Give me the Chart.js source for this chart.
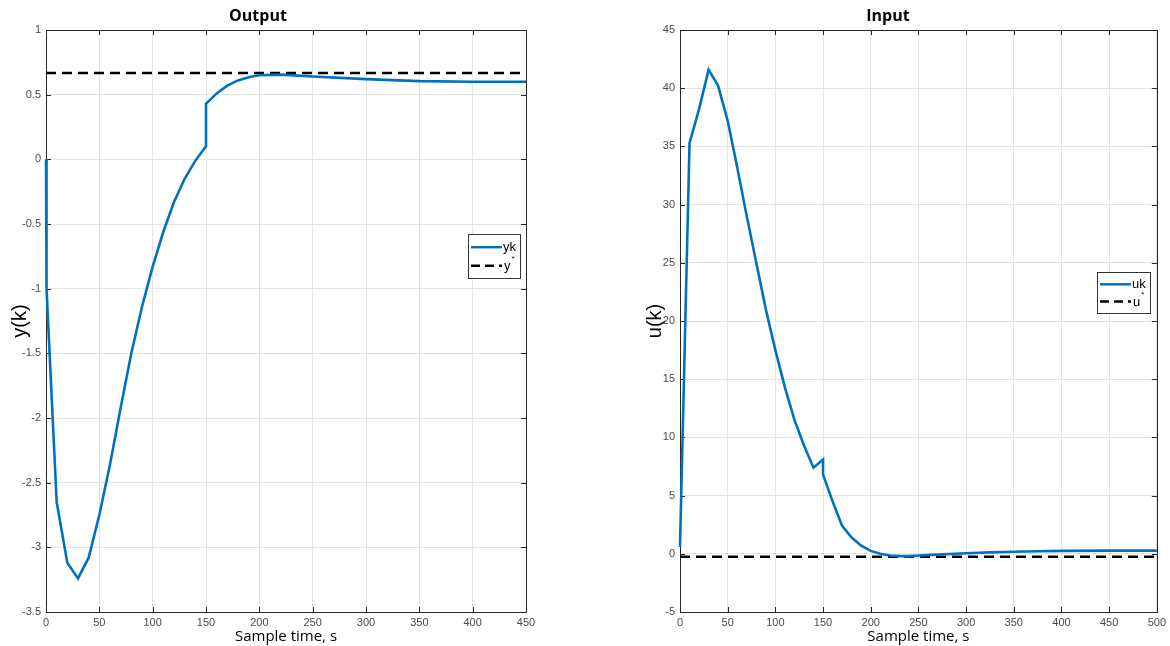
<!DOCTYPE html>
<html>
<head>
<meta charset="utf-8">
<script src="https://cdn.jsdelivr.net/npm/chart.js@4/dist/chart.umd.min.js"></script>
<style>
  html, body { margin: 0; padding: 0; background: #fff; }
  #wrap { position: relative; width: 1170px; height: 646px; }
  canvas { position: absolute; top: 0; }
</style>
</head>
<body>
<div id="wrap">
  <canvas id="outChart" width="560" height="646" style="left:0"></canvas>
  <canvas id="inChart" width="585" height="646" style="left:585px"></canvas>
</div>
<script>
// Output y(k)
const outTime = [0, 0.5, 10, 20, 30, 40, 50, 60, 70, 80, 90, 100, 110, 120, 130, 140, 150, 150, 160, 170, 180, 190, 200, 220, 250, 300, 350, 400, 450];
const outY = [0, -1.0, -2.65, -3.12, -3.24, -3.08, -2.75, -2.36, -1.92, -1.5, -1.14, -0.83, -0.56, -0.33, -0.15, -0.01, 0.1, 0.43, 0.51, 0.57, 0.61, 0.635, 0.65, 0.655, 0.64, 0.62, 0.605, 0.6, 0.6];
const yStar = 0.667;
const outXTicks = [0, 50, 100, 150, 200, 250, 300, 350, 400, 450];
const outYTicks = [-3.5, -3, -2.5, -2, -1.5, -1, -0.5, 0, 0.5, 1];

// Input u(k)
const inTime = [0, 10, 20, 30, 40, 50, 60, 70, 80, 90, 100, 110, 120, 130, 140, 150, 150, 160, 170, 180, 190, 200, 210, 220, 230, 240, 250, 275, 300, 325, 350, 375, 400, 450, 500];
const inU = [0.6, 35.3, 38.2, 41.6, 40.2, 37.2, 33.2, 29.0, 25.0, 21.0, 17.5, 14.3, 11.5, 9.3, 7.4, 8.1, 6.8, 4.5, 2.4, 1.4, 0.7, 0.25, 0.0, -0.15, -0.2, -0.2, -0.15, -0.05, 0.05, 0.12, 0.18, 0.22, 0.25, 0.27, 0.27];
const uStar = -0.25;
const inXTicks = [0, 50, 100, 150, 200, 250, 300, 350, 400, 450, 500];
const inYTicks = [-5, 0, 5, 10, 15, 20, 25, 30, 35, 40, 45];

const BLUE = "#0072BD";
const AXIS = "#262626";

// MATLAB style box: frame + inward ticks, title and legend
const matlabBox = {
  id: "matlabBox",
  beforeDatasetsDraw(chart, args, o) {
    const { ctx, chartArea: a, scales: { x, y } } = chart;
    ctx.save();
    ctx.strokeStyle = AXIS;
    ctx.lineWidth = 1;
    ctx.beginPath();
    x.ticks.forEach(t => {
      const px = Math.round(x.getPixelForValue(t.value)) + 0.5;
      ctx.moveTo(px, a.bottom); ctx.lineTo(px, a.bottom - 5);
      ctx.moveTo(px, a.top); ctx.lineTo(px, a.top + 5);
    });
    y.ticks.forEach(t => {
      const py = Math.round(y.getPixelForValue(t.value)) + 0.5;
      ctx.moveTo(a.left, py); ctx.lineTo(a.left + 5, py);
      ctx.moveTo(a.right, py); ctx.lineTo(a.right - 5, py);
    });
    ctx.stroke();
    ctx.strokeRect(Math.round(a.left) + 0.5, Math.round(a.top) + 0.5, Math.round(a.width), Math.round(a.height));
    ctx.restore();
  },
  afterDraw(chart, args, o) {
    const { ctx } = chart;
    ctx.save();
    // title
    ctx.font = 'bold 16px "Open Sans"';
    ctx.fillStyle = "#000";
    ctx.textAlign = "center";
    ctx.textBaseline = "middle";
    ctx.fillText(o.title, o.titleX, 16);

    // legend
    const L = o.legend;
    ctx.fillStyle = "#fff";
    ctx.fillRect(L.x, L.y, L.w, L.h);
    ctx.strokeStyle = "#333";
    ctx.lineWidth = 1;
    ctx.strokeRect(L.x + 0.5, L.y + 0.5, L.w, L.h);
    const r1 = L.y + L.h * 0.3, r2 = L.y + L.h * 0.72;
    ctx.lineWidth = 2.5;
    ctx.strokeStyle = BLUE;
    ctx.beginPath(); ctx.moveTo(L.x + 3, r1); ctx.lineTo(L.x + 34, r1); ctx.stroke();
    ctx.strokeStyle = "#000";
    ctx.setLineDash([9, 5]);
    ctx.beginPath(); ctx.moveTo(L.x + 3, r2); ctx.lineTo(L.x + 34, r2); ctx.stroke();
    ctx.setLineDash([]);
    ctx.fillStyle = "#000";
    ctx.textAlign = "left";
    ctx.font = '13px "Liberation Sans"';
    ctx.fillText(L.labels[0], L.x + 35, r1);
    ctx.fillText(L.labels[1], L.x + 36, r2 + 1);
    const w = ctx.measureText(L.labels[1]).width;
    ctx.font = '8px "Liberation Sans"';
    ctx.fillText("*", L.x + 36 + w + 1, r2 - 7);
    ctx.restore();
  }
};

function makeChart(id, cfg) {
  const scaleFont = { family: "Liberation Sans", size: 11 };
  new Chart(document.getElementById(id), {
    type: "line",
    data: {
      datasets: [
        {
          label: cfg.names[0],
          data: cfg.xs.map((v, i) => ({ x: v, y: cfg.ys[i] })),
          borderColor: BLUE,
          borderWidth: 2.6,
          pointRadius: 0,
          tension: 0,
          clip: 4
        },
        {
          label: cfg.names[1],
          data: [{ x: cfg.xTicks[0], y: cfg.star }, { x: cfg.xTicks[cfg.xTicks.length - 1], y: cfg.star }],
          borderColor: "#000",
          borderWidth: 2.6,
          borderDash: [10, 6],
          pointRadius: 0,
          clip: 4
        }
      ]
    },
    options: {
      responsive: false,
      animation: false,
      events: [],
      layout: { padding: cfg.padding },
      plugins: {
        legend: { display: false },
        tooltip: { enabled: false },
        matlabBox: cfg.box
      },
      scales: {
        x: {
          type: "linear",
          min: cfg.xTicks[0],
          max: cfg.xTicks[cfg.xTicks.length - 1],
          afterBuildTicks: s => { s.ticks = cfg.xTicks.map(v => ({ value: v })); },
          afterFit: s => { s.height = 34; },
          grid: { color: "#e4e4e4", drawTicks: false },
          border: { display: false },
          ticks: { font: scaleFont, color: "#4a4a4a", padding: 4, maxRotation: 0, callback: v => String(v) },
          title: {
            display: true,
            text: "Sample time, s",
            font: { family: "Open Sans", size: 15 },
            color: "#000",
            padding: { top: 0, bottom: 0 }
          }
        },
        y: {
          type: "linear",
          min: cfg.yTicks[0],
          max: cfg.yTicks[cfg.yTicks.length - 1],
          afterBuildTicks: s => { s.ticks = cfg.yTicks.map(v => ({ value: v })); },
          afterFit: s => { s.width = cfg.yWidth; },
          grid: { color: "#e4e4e4", drawTicks: false },
          border: { display: false },
          ticks: { font: scaleFont, color: "#4a4a4a", padding: 5, callback: v => String(v) },
          title: {
            display: true,
            text: cfg.yTitle,
            font: { family: "Liberation Sans", size: 20 },
            color: "#000",
            padding: { top: 8, bottom: 0 }
          }
        }
      }
    },
    plugins: [matlabBox]
  });
}

makeChart("outChart", {
  xs: outTime, ys: outY, star: yStar,
  xTicks: outXTicks, yTicks: outYTicks,
  names: ["yk", "y*"], yTitle: "y(k)",
  padding: { left: 0, right: 34, top: 30, bottom: 0 },
  yWidth: 46,
  box: { title: "Output", titleX: 258, legend: { x: 468, y: 234, w: 52, h: 44, labels: ["yk", "y"] } }
});

makeChart("inChart", {
  xs: inTime, ys: inU, star: uStar,
  xTicks: inXTicks, yTicks: inYTicks,
  names: ["uk", "u*"], yTitle: "u(k)",
  padding: { left: 50, right: 8, top: 30, bottom: 0 },
  yWidth: 45,
  box: { title: "Input", titleX: 303, legend: { x: 512, y: 272, w: 53, h: 41, labels: ["uk", "u"] } }
});
</script>
</body>
</html>
